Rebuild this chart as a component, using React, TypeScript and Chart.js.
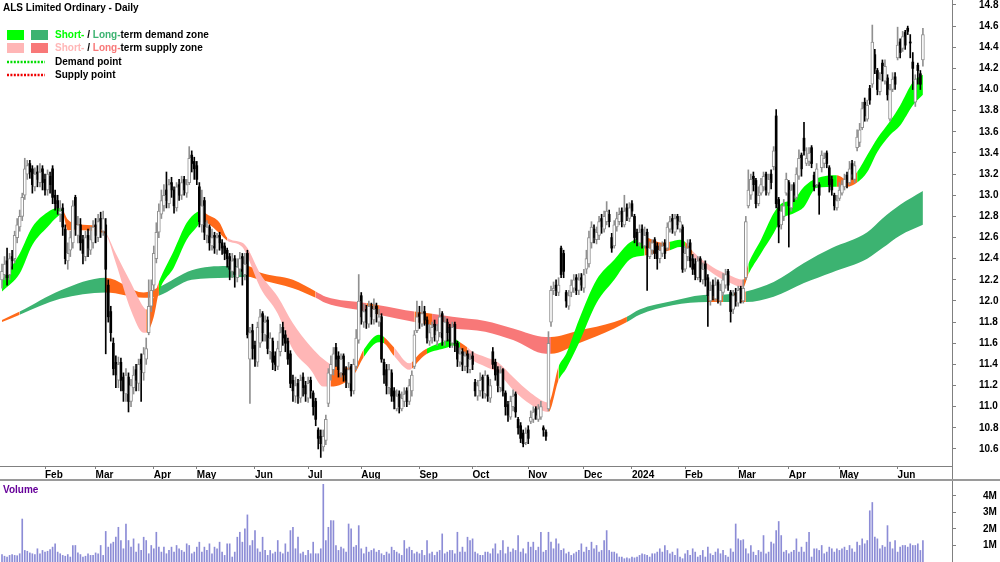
import React, { useEffect, useRef } from 'react';
import { Chart, registerables } from 'chart.js';

Chart.register(...registerables);

const FONT = 'Arial, "Liberation Sans", Helvetica, sans-serif';
const TITLE = 'ALS Limited Ordinary - Daily';

// ---- daily OHLC (bar index 0 = first trading day shown, Jan 2023) ----
const opens = [
  12.20,12.25,12.38,12.25,12.42,12.40,12.60,12.70,12.80,13.00,
  13.20,13.30,13.25,13.08,13.22,13.12,13.25,13.15,13.05,13.18,
  13.25,13.00,12.95,12.82,12.88,12.68,12.38,12.48,12.55,12.98,
  12.62,12.72,12.58,12.42,12.62,12.48,12.55,12.72,12.60,12.78,
  12.66,12.72,12.15,11.90,11.60,11.42,11.25,11.42,11.28,11.12,
  11.28,11.05,11.18,11.35,11.22,11.45,11.32,11.45,11.70,11.95,
  12.15,12.40,12.65,12.82,12.90,13.05,12.92,13.12,13.05,12.88,
  13.10,13.00,13.15,13.02,13.12,13.38,13.32,13.28,13.08,12.72,
  12.95,12.62,12.70,12.52,12.62,12.48,12.62,12.55,12.52,12.48,
  12.42,12.28,12.40,12.22,12.30,12.42,12.25,12.45,11.45,11.72,
  11.58,11.42,11.60,11.88,11.68,11.82,11.52,11.62,11.48,11.38,
  11.52,11.75,11.68,11.62,11.50,11.25,11.10,11.22,11.08,11.28,
  11.20,11.08,11.25,11.13,11.05,10.78,10.72,10.62,10.68,11.03,
  11.30,11.35,11.56,11.48,11.32,11.48,11.35,11.22,11.38,11.15,
  11.38,11.63,12.05,11.80,11.92,11.78,11.95,11.82,11.95,11.80,
  11.85,11.42,11.35,11.18,11.32,11.15,10.98,11.12,10.98,11.05,
  11.15,11.05,11.15,11.38,11.72,11.88,11.78,11.90,11.82,11.62,
  11.65,11.78,11.62,11.70,11.88,11.62,11.80,11.75,11.60,11.78,
  11.60,11.42,11.52,11.38,11.50,11.35,11.48,11.23,11.10,11.15,
  11.28,11.12,11.28,11.08,11.52,11.42,11.35,11.18,11.35,11.13,
  11.02,10.90,11.00,11.12,10.88,10.82,10.75,10.66,10.78,10.86,
  10.88,10.98,10.88,10.90,10.80,10.76,10.98,11.80,12.10,12.15,
  12.08,12.50,12.45,12.08,11.95,12.08,12.12,12.22,12.10,12.22,
  12.12,12.30,12.35,12.55,12.68,12.58,12.62,12.78,12.68,12.75,
  12.82,12.60,12.52,12.70,12.75,12.85,12.72,12.88,12.78,12.92,
  12.80,12.65,12.55,12.68,12.52,12.65,12.42,12.48,12.58,12.52,
  12.40,12.45,12.55,12.50,12.68,12.78,12.65,12.80,12.68,12.70,
  12.30,12.42,12.55,12.40,12.35,12.22,12.40,12.20,12.35,12.22,
  12.00,12.15,12.02,12.18,12.00,12.08,12.15,12.28,12.08,11.92,
  12.08,11.98,12.12,12.00,12.22,12.90,13.00,13.18,13.14,12.92,
  13.02,13.08,13.20,13.02,13.20,13.27,13.75,12.96,12.72,12.80,
  13.02,13.12,12.88,13.10,12.98,13.18,13.38,13.54,13.30,13.32,
  13.45,13.19,13.10,13.10,13.26,13.30,13.40,13.26,13.15,13.00,
  12.88,12.97,13.02,13.08,13.19,13.12,13.30,13.15,13.45,13.50,
  13.64,13.88,13.72,14.01,14.05,14.33,14.18,13.98,14.25,14.08,
  14.11,13.72,14.00,14.12,14.30,14.45,14.39,14.54,14.58,14.45,
  14.26,13.88,14.23,14.15,14.28,
];

const highs = [
  12.35,12.42,12.50,12.45,12.48,12.66,12.78,12.86,13.02,13.35,
  13.33,13.33,13.28,13.26,13.28,13.30,13.28,13.20,13.24,13.22,
  13.28,13.05,13.00,12.95,12.92,12.72,12.55,12.66,12.95,13.00,
  12.80,12.78,12.62,12.66,12.68,12.70,12.76,12.78,12.82,12.84,
  12.85,12.78,12.20,11.95,11.65,11.48,11.47,11.46,11.32,11.36,
  11.32,11.26,11.38,11.40,11.45,11.50,11.56,11.65,12.20,12.20,
  12.52,12.74,12.92,13.05,13.10,13.22,13.15,13.17,13.08,13.12,
  13.15,13.18,13.18,13.15,13.46,13.42,13.36,13.32,13.12,13.05,
  12.98,12.76,12.72,12.68,12.65,12.64,12.65,12.58,12.55,12.50,
  12.45,12.45,12.43,12.40,12.46,12.45,12.45,12.48,11.75,11.78,
  11.62,11.80,11.92,11.90,11.86,11.85,11.70,11.65,11.52,11.62,
  11.78,11.80,11.72,11.65,11.53,11.30,11.28,11.26,11.30,11.32,
  11.24,11.28,11.28,11.15,11.08,10.80,10.78,10.78,10.92,11.36,
  11.48,11.56,11.60,11.52,11.50,11.50,11.38,11.42,11.40,11.45,
  11.73,12.25,12.08,11.97,11.96,12.00,11.98,12.02,11.98,11.92,
  11.88,11.45,11.40,11.40,11.35,11.18,11.16,11.15,11.14,11.18,
  11.18,11.26,11.34,11.72,12.00,11.95,12.00,11.95,11.85,11.78,
  11.80,11.82,11.78,11.93,11.90,11.85,11.83,11.78,11.80,11.80,
  11.62,11.56,11.55,11.52,11.53,11.50,11.52,11.26,11.25,11.32,
  11.30,11.34,11.30,11.26,11.56,11.45,11.38,11.38,11.36,11.15,
  11.05,11.10,11.16,11.14,10.90,10.85,10.78,10.80,10.82,10.96,
  11.00,11.00,11.02,11.05,10.82,10.78,11.71,12.14,12.18,12.20,
  12.22,12.52,12.48,12.10,12.10,12.20,12.25,12.25,12.26,12.26,
  12.30,12.48,12.66,12.75,12.72,12.70,12.80,12.82,12.85,12.94,
  12.86,12.64,12.76,12.84,12.88,12.88,13.00,12.92,12.93,12.95,
  12.82,12.68,12.72,12.72,12.70,12.68,12.56,12.58,12.60,12.55,
  12.54,12.56,12.58,12.74,12.80,12.82,12.82,12.82,12.80,12.72,
  12.52,12.58,12.58,12.44,12.40,12.42,12.42,12.36,12.38,12.25,
  12.18,12.20,12.22,12.20,12.16,12.26,12.30,12.30,12.10,12.10,
  12.12,12.14,12.14,12.20,12.80,13.24,13.20,13.22,13.16,13.08,
  13.16,13.22,13.22,13.20,13.24,13.46,13.81,12.98,12.90,12.96,
  13.21,13.14,13.10,13.12,13.26,13.43,13.40,13.69,13.45,13.45,
  13.47,13.22,13.30,13.12,13.42,13.40,13.42,13.28,13.18,13.02,
  13.00,13.12,13.14,13.20,13.22,13.32,13.33,13.32,13.62,13.68,
  13.88,13.92,13.90,14.04,14.61,14.38,14.20,14.16,14.28,14.28,
  14.14,14.05,14.16,14.16,14.59,14.48,14.55,14.56,14.60,14.52,
  14.35,14.14,14.25,14.18,14.58,
];

const lows = [
  12.12,12.20,12.15,12.20,12.30,12.36,12.55,12.66,12.76,12.96,
  13.15,13.16,13.02,13.04,13.08,13.08,13.05,13.00,13.00,13.02,
  12.92,12.86,12.82,12.75,12.62,12.35,12.30,12.42,12.50,12.62,
  12.55,12.48,12.35,12.38,12.42,12.44,12.50,12.55,12.56,12.60,
  12.62,11.50,11.80,11.62,11.30,11.18,11.18,11.15,11.05,11.05,
  10.95,11.00,11.12,11.15,11.15,11.05,11.25,11.40,11.68,11.90,
  12.10,12.36,12.60,12.78,12.85,12.88,12.88,12.98,12.83,12.85,
  12.95,12.96,13.00,12.98,13.10,13.22,13.15,13.10,12.70,12.65,
  12.58,12.55,12.48,12.48,12.45,12.44,12.48,12.44,12.39,12.32,
  12.20,12.22,12.13,12.18,12.25,12.15,12.20,11.65,11.03,11.45,
  11.38,11.38,11.56,11.62,11.62,11.50,11.45,11.35,11.34,11.35,
  11.48,11.58,11.52,11.40,11.18,11.05,11.04,11.03,11.04,11.10,
  11.05,11.04,11.08,10.92,10.82,10.60,10.52,10.58,10.64,11.00,
  11.25,11.30,11.38,11.28,11.28,11.24,11.18,11.18,11.10,11.12,
  11.35,11.60,11.78,11.75,11.74,11.75,11.78,11.78,11.80,11.76,
  11.42,11.22,11.12,11.12,11.05,10.98,10.96,10.94,10.96,11.00,
  11.00,11.02,11.10,11.36,11.70,11.74,11.76,11.77,11.60,11.58,
  11.60,11.62,11.58,11.66,11.58,11.58,11.62,11.56,11.56,11.52,
  11.38,11.38,11.34,11.34,11.32,11.32,11.35,11.10,11.06,11.10,
  11.08,11.08,11.05,11.04,11.36,11.25,11.14,11.14,11.10,10.92,
  10.86,10.88,10.96,10.90,10.74,10.66,10.62,10.64,10.65,10.84,
  10.85,10.88,10.86,10.88,10.72,10.68,10.96,11.76,12.06,12.05,
  12.05,12.22,12.22,11.94,11.92,12.04,12.08,12.06,12.06,12.10,
  12.08,12.26,12.32,12.50,12.55,12.54,12.58,12.64,12.65,12.72,
  12.70,12.46,12.50,12.66,12.72,12.70,12.70,12.76,12.75,12.80,
  12.55,12.52,12.52,12.50,12.50,12.10,12.40,12.44,12.40,12.30,
  12.36,12.42,12.40,12.48,12.65,12.64,12.62,12.68,12.65,12.27,
  12.28,12.38,12.32,12.25,12.20,12.20,12.18,12.16,12.14,11.76,
  11.96,12.01,12.00,11.98,11.96,12.05,12.12,12.10,11.80,11.88,
  11.95,11.95,11.98,11.98,12.20,12.88,12.96,13.04,12.88,12.90,
  13.00,13.04,13.00,13.00,13.06,13.24,12.88,12.55,12.68,12.76,
  13.00,12.51,12.85,12.94,12.96,13.15,13.18,13.38,13.28,13.28,
  13.26,13.04,13.08,12.82,13.22,13.26,13.26,13.03,13.00,12.86,
  12.86,12.95,13.00,13.05,13.07,13.10,13.15,13.12,13.42,13.46,
  13.62,13.70,13.70,13.86,14.02,14.15,13.95,13.95,14.08,14.05,
  13.90,13.70,13.98,14.00,14.28,14.30,14.36,14.38,14.52,14.30,
  14.00,13.84,14.05,14.00,14.22,
];

const closes = [
  12.28,12.35,12.22,12.40,12.38,12.62,12.72,12.80,12.98,13.25,
  13.28,13.22,13.10,13.20,13.15,13.22,13.12,13.05,13.20,13.10,
  12.98,12.92,12.88,12.85,12.70,12.40,12.45,12.60,12.90,12.68,
  12.72,12.55,12.45,12.60,12.50,12.58,12.70,12.62,12.75,12.68,
  12.78,12.30,11.85,11.70,11.36,11.30,11.40,11.25,11.15,11.30,
  11.05,11.20,11.30,11.25,11.40,11.35,11.50,11.55,11.95,12.10,
  12.45,12.65,12.85,12.95,13.00,12.95,13.10,13.05,12.90,13.08,
  13.00,13.12,13.05,13.10,13.35,13.30,13.25,13.15,12.75,12.90,
  12.65,12.70,12.55,12.60,12.50,12.60,12.55,12.50,12.45,12.40,
  12.30,12.38,12.25,12.32,12.40,12.28,12.35,11.68,11.70,11.55,
  11.45,11.75,11.85,11.70,11.80,11.55,11.65,11.42,11.40,11.55,
  11.70,11.65,11.60,11.45,11.22,11.15,11.20,11.10,11.25,11.18,
  11.12,11.22,11.15,11.00,10.88,10.70,10.65,10.72,10.88,11.32,
  11.40,11.50,11.45,11.35,11.45,11.30,11.25,11.35,11.15,11.40,
  11.65,12.00,11.85,11.90,11.80,11.95,11.85,11.92,11.88,11.85,
  11.45,11.30,11.20,11.35,11.10,11.05,11.10,11.00,11.08,11.12,
  11.05,11.20,11.30,11.68,11.85,11.80,11.88,11.82,11.65,11.70,
  11.75,11.68,11.72,11.85,11.65,11.80,11.70,11.62,11.75,11.60,
  11.45,11.50,11.40,11.48,11.38,11.45,11.40,11.15,11.20,11.25,
  11.15,11.30,11.10,11.20,11.40,11.30,11.20,11.32,11.15,11.00,
  10.92,11.05,11.10,10.95,10.80,10.70,10.65,10.75,10.70,10.90,
  10.95,10.92,10.98,11.00,10.78,10.72,11.60,12.10,12.12,12.10,
  12.15,12.25,12.28,12.00,12.05,12.15,12.20,12.10,12.20,12.15,
  12.25,12.40,12.60,12.70,12.60,12.65,12.75,12.70,12.80,12.85,
  12.75,12.50,12.72,12.78,12.82,12.75,12.85,12.80,12.88,12.85,
  12.60,12.58,12.65,12.55,12.62,12.50,12.50,12.55,12.45,12.40,
  12.48,12.52,12.45,12.70,12.75,12.68,12.78,12.72,12.75,12.30,
  12.45,12.50,12.38,12.30,12.25,12.38,12.22,12.30,12.20,12.05,
  12.10,12.05,12.15,12.02,12.10,12.20,12.25,12.15,11.90,12.05,
  12.00,12.10,12.02,12.12,12.75,13.05,13.15,13.10,12.92,13.00,
  13.10,13.18,13.05,13.15,13.12,13.42,12.92,12.70,12.85,12.90,
  13.15,12.90,13.05,13.00,13.20,13.35,13.25,13.42,13.35,13.40,
  13.30,13.08,13.25,13.00,13.38,13.35,13.30,13.10,13.05,12.90,
  12.95,13.05,13.10,13.15,13.12,13.25,13.20,13.28,13.55,13.62,
  13.82,13.75,13.85,13.90,14.45,14.20,14.00,14.10,14.15,14.22,
  13.95,14.00,14.10,14.05,14.42,14.35,14.50,14.42,14.55,14.44,
  14.20,14.10,14.18,14.05,14.52,
];

// daily volume, millions of shares
const volumes = [
  0.45,0.35,0.3,0.4,0.45,0.4,0.38,0.5,2.6,0.7,
  0.65,0.55,0.5,0.45,0.8,0.5,0.7,0.6,0.65,0.75,
  0.9,1.1,0.6,0.5,0.4,0.35,0.45,0.3,1.0,1.0,
  0.55,0.45,0.3,0.35,0.5,0.4,0.4,0.55,0.5,1.0,
  0.4,1.85,0.9,1.1,1.2,1.5,2.1,1.3,0.8,2.3,
  1.3,0.9,1.4,0.6,1.1,0.7,1.5,1.3,0.5,1.0,
  0.8,1.8,0.9,0.6,0.9,0.5,0.7,0.9,0.6,1.0,
  0.8,0.7,0.6,1.1,1.0,0.5,0.6,0.9,1.2,0.6,
  0.9,0.7,1.1,0.5,0.9,0.8,1.2,0.6,0.4,1.1,
  1.1,0.3,0.6,1.5,1.8,1.2,2.0,2.85,1.0,1.3,
  1.9,0.8,0.6,1.5,0.7,0.4,0.7,0.5,0.6,1.3,
  0.6,0.5,1.1,0.6,1.9,2.1,0.8,1.5,0.5,0.6,
  0.4,0.7,0.5,1.2,0.5,0.5,0.8,4.7,1.3,2.1,
  2.5,2.5,1.0,0.7,0.9,0.8,0.6,2.3,2.0,0.9,
  1.0,2.2,0.8,0.5,0.9,0.6,0.7,0.8,0.6,0.7,
  0.5,0.4,0.6,0.5,0.9,0.7,0.6,0.5,0.4,1.3,
  0.8,0.9,0.7,0.5,0.6,0.5,0.7,0.4,1.3,0.5,
  0.6,0.4,0.6,0.7,1.7,0.5,0.6,0.7,0.7,0.5,
  1.8,0.6,0.9,0.6,1.5,1.3,1.4,0.6,0.5,0.4,
  0.4,0.6,0.6,0.5,0.8,1.1,0.5,0.7,1.3,0.5,
  0.9,0.6,0.8,0.7,1.6,0.6,0.8,0.5,1.2,0.9,
  1.2,0.7,0.9,1.8,0.6,0.7,1.8,1.2,0.8,1.4,
  1.1,0.7,0.8,0.5,0.6,0.4,0.5,0.6,0.7,1.1,
  0.6,0.9,0.7,1.2,0.8,1.0,0.6,0.7,1.3,1.9,
  0.7,0.6,0.6,0.5,0.3,0.3,0.2,0.25,0.2,0.3,
  0.25,0.3,0.4,0.5,0.45,0.4,0.3,0.5,0.5,0.6,
  0.8,0.6,1.0,0.7,0.5,0.6,0.4,0.8,0.3,0.2,
  0.5,0.7,0.4,0.8,0.6,0.3,0.4,0.7,0.3,0.9,
  0.5,0.4,0.6,0.8,0.5,0.7,0.4,0.3,0.8,0.6,
  2.3,1.4,1.3,1.35,0.8,0.5,1.0,0.6,0.4,0.7,
  0.6,1.6,0.5,0.6,1.2,1.1,1.9,2.45,1.6,0.6,
  0.7,0.5,0.6,0.7,1.4,0.6,0.9,0.6,1.2,1.8,
  0.3,0.8,0.8,0.7,1.0,0.5,0.6,0.9,0.8,0.6,
  0.8,0.7,0.8,0.9,0.7,1.0,0.8,0.6,1.2,1.0,
  1.4,1.1,1.3,3.1,3.6,1.5,1.4,0.8,1.0,0.9,
  2.2,1.2,0.8,1.3,0.6,0.9,1.0,1.0,0.9,1.1,
  1.0,1.0,1.1,0.7,1.3,
];

// ---- x axis: first trading bar of each month ----
const monthStarts = [17, 37, 60, 77, 100, 121, 142, 165, 186, 208, 230, 249, 270, 291, 311, 331, 354];
const monthLabels = ['Feb', 'Mar', 'Apr', 'May', 'Jun', 'Jul', 'Aug', 'Sep', 'Oct', 'Nov', 'Dec', '2024', 'Feb', 'Mar', 'Apr', 'May', 'Jun'];

// ---- y axis ticks ----
const priceTicks = [10.6, 10.8, 11.0, 11.2, 11.4, 11.6, 11.8, 12.0, 12.2, 12.4, 12.6, 12.8, 13.0, 13.2, 13.4, 13.6, 13.8, 14.0, 14.2, 14.4, 14.6, 14.8];
const volumeTicks = [1, 2, 3, 4];

// ---- short-term zone (bar index, upper edge, lower edge, state: D demand / S supply / N neutral) ----
const stIdx = [0,7,12,18,22,24,26,32,39,41,45,51,56,57,60,62,68,73,77,79,81,86,89,95,97,102,109,115,122,127,130,139,143,149,151,155,161,162,165,168,176,178,181,184,186,191,196,202,209,216,220,223,228,235,242,248,254,261,264,268,270,273,281,287,293,295,300,305,308,313,317,322,330,334,338,342,346,351,355,360,364];
const stTop = [12.20,12.45,12.70,12.84,12.88,12.86,12.77,12.72,12.70,12.65,12.45,12.17,11.94,11.92,12.04,12.18,12.48,12.74,12.84,12.85,12.82,12.74,12.60,12.55,12.50,12.26,12.04,11.79,11.57,11.45,11.40,11.37,11.54,11.68,11.66,11.56,11.41,11.42,11.50,11.55,11.63,11.65,11.61,11.56,11.52,11.47,11.42,11.28,11.13,11.04,11.38,11.50,11.82,12.20,12.39,12.55,12.60,12.55,12.56,12.58,12.56,12.47,12.32,12.25,12.20,12.35,12.58,12.83,12.92,12.96,13.08,13.16,13.19,13.15,13.22,13.38,13.54,13.70,13.85,14.07,14.14];
const stBot = [12.09,12.26,12.53,12.70,12.80,12.82,12.67,12.67,12.65,12.63,12.36,11.91,11.70,11.70,11.85,12.08,12.32,12.58,12.70,12.76,12.74,12.64,12.57,12.51,12.42,12.13,11.88,11.54,11.35,11.19,11.19,11.30,11.47,11.61,11.60,11.48,11.35,11.36,11.44,11.50,11.56,11.58,11.55,11.48,11.44,11.38,11.32,11.16,11.02,10.95,11.25,11.36,11.60,11.98,12.20,12.39,12.43,12.46,12.48,12.51,12.50,12.42,12.26,12.18,12.13,12.25,12.45,12.64,12.77,12.83,12.89,13.07,13.08,13.08,13.12,13.22,13.41,13.57,13.66,13.85,13.95];
const stZone = [
  'D','D','D','D','D','N','N','N','N','S','S','S','S','N','N','D','D','D','D','N',
  'N','N','S','S','S','S','S','S','S','S','N','N','D','D','N','S','S','N','N','D',
  'D','D','N','S','S','S','S','S','S','N','D','D','D','D','D','D','N','N','D','D',
  'N','S','S','S','N','D','D','D','D','D','D','D','N','N','D','D','D','D','D','D','D',
];

// ---- long-term zone ----
const ltIdx = [0,7,23,41,56,62,75,89,97,102,115,124,128,144,149,163,170,178,191,202,215,217,228,242,247,252,265,279,285,289,294,305,317,328,342,348,355,364];
const ltTop = [11.82,11.90,12.10,12.22,12.08,12.13,12.29,12.33,12.33,12.27,12.20,12.09,12.04,11.98,11.96,11.90,11.88,11.85,11.81,11.74,11.66,11.66,11.72,11.80,11.85,11.92,12.00,12.06,12.06,12.07,12.09,12.18,12.36,12.50,12.65,12.78,12.91,13.04];
const ltBot = [11.80,11.87,12.02,12.08,12.03,12.05,12.20,12.22,12.23,12.20,12.12,12.03,11.98,11.90,11.87,11.80,11.77,11.74,11.71,11.63,11.50,11.50,11.60,11.74,11.80,11.87,11.96,11.99,11.99,11.99,11.99,12.04,12.17,12.27,12.40,12.50,12.62,12.72];
const ltZone = [
  'N','D','D','N','N','D','D','D','N','N','N','S','S','N','S','N','S','S','S','S',
  'S','N','N','N','D','D','D','N','D','N','D','D','D','D','D','D','D','D',
];

const ST_COLORS: Record<string, string> = { D: '#00ff00', N: '#ff6a1a', S: '#ffb6b6' };
const LT_COLORS: Record<string, string> = { D: '#3cb371', N: '#ff6a1a', S: '#f87878' };

const X_MIN = -0.79;
const X_MAX = 375.5;
const Y_MIN = 10.439;
const Y_MAX = 14.847;

const tickFont = { family: FONT, size: 10, weight: 'bold' as const };

function App() {
  const priceRef = useRef<HTMLCanvasElement | null>(null);
  const volRef = useRef<HTMLCanvasElement | null>(null);

  useEffect(() => {
    document.body.style.margin = '0';
    Chart.defaults.font.family = FONT;
    const isUp = (i: number) => closes[i] >= opens[i];
    const upIdx = closes.map((_, i) => i).filter((i) => isUp(i));
    const downIdx = closes.map((_, i) => i).filter((i) => !isUp(i));

    const overlay = {
      id: 'overlay',
      afterDraw(chart: any) {
        const { ctx, chartArea, width, height } = chart;
        ctx.save();
        ctx.strokeStyle = '#808080';
        ctx.lineWidth = 1;
        ctx.beginPath();
        ctx.moveTo(Math.round(chartArea.right) + 0.5, chartArea.bottom);
        ctx.lineTo(Math.round(chartArea.right) + 0.5, height);
        ctx.stroke();
        ctx.fillStyle = '#9a9a9a';
        ctx.fillRect(0, height - 2, width, 2);

        ctx.font = `bold 10px ${FONT}`;
        ctx.textBaseline = 'middle';
        ctx.textAlign = 'left';
        ctx.fillStyle = '#000';
        ctx.fillText(TITLE, 3, 8);

        const parts = (list: [string, string][], x: number, y: number) => {
          let cx = x;
          for (const [t, c] of list) {
            ctx.fillStyle = c;
            ctx.fillText(t, cx, y);
            cx += ctx.measureText(t).width;
          }
        };
        ctx.fillStyle = ST_COLORS.D; ctx.fillRect(7, 30, 17, 10);
        ctx.fillStyle = LT_COLORS.D; ctx.fillRect(31, 30, 17, 10);
        parts([['Short-', ST_COLORS.D], [' / ', '#000'], ['Long-', LT_COLORS.D], ['term demand zone', '#000']], 55, 35);
        ctx.fillStyle = ST_COLORS.S; ctx.fillRect(7, 43, 17, 10);
        ctx.fillStyle = LT_COLORS.S; ctx.fillRect(31, 43, 17, 10);
        parts([['Short-', ST_COLORS.S], [' / ', '#000'], ['Long-', LT_COLORS.S], ['term supply zone', '#000']], 55, 48);

        ctx.lineWidth = 2.5;
        ctx.setLineDash([2, 1.4]);
        ctx.strokeStyle = '#00dd00';
        ctx.beginPath(); ctx.moveTo(7, 62); ctx.lineTo(45, 62); ctx.stroke();
        ctx.strokeStyle = '#ee0000';
        ctx.beginPath(); ctx.moveTo(7, 75); ctx.lineTo(45, 75); ctx.stroke();
        ctx.setLineDash([]);
        ctx.fillStyle = '#000';
        ctx.fillText('Demand point', 55, 62);
        ctx.fillText('Supply point', 55, 75);
        ctx.restore();
      },
    };

    const bandLine = (idx: number[], vals: number[], order: number) => ({
      type: 'line' as const,
      data: idx.map((x, k) => ({ x, y: vals[k] })),
      borderWidth: 0,
      pointRadius: 0,
      pointHitRadius: 0,
      cubicInterpolationMode: 'monotone' as const,
      order,
    });

    const price = new Chart(priceRef.current as HTMLCanvasElement, {
      type: 'bar',
      data: {
        datasets: [
          { ...bandLine(ltIdx, ltBot, 10), fill: false },
          {
            ...bandLine(ltIdx, ltTop, 10),
            fill: '-1',
            backgroundColor: LT_COLORS.D,
            segment: { backgroundColor: (c: any) => LT_COLORS[ltZone[c.p0DataIndex]] },
          },
          { ...bandLine(stIdx, stBot, 9), fill: false },
          {
            ...bandLine(stIdx, stTop, 9),
            fill: '-1',
            backgroundColor: ST_COLORS.D,
            segment: { backgroundColor: (c: any) => ST_COLORS[stZone[c.p0DataIndex]] },
          },
          {
            type: 'bar',
            data: closes.map((_, i) => ({ x: i, y: [lows[i], highs[i]] })),
            backgroundColor: (c: any) => (isUp(c.dataIndex) ? '#909090' : '#000000'),
            barThickness: 1,
            stack: 'c',
            order: 2,
          },
          {
            type: 'bar',
            data: upIdx.map((i) => ({ x: i, y: [opens[i], closes[i]] })),
            backgroundColor: '#ffffff',
            borderColor: '#909090',
            borderWidth: 1,
            borderSkipped: false,
            barThickness: 3,
            minBarLength: 1,
            stack: 'c',
            order: 1,
          },
          {
            type: 'bar',
            data: downIdx.map((i) => ({ x: i, y: [opens[i], closes[i]] })),
            backgroundColor: '#000000',
            borderWidth: 0,
            barThickness: 2,
            minBarLength: 1,
            stack: 'c',
            order: 1,
          },
        ] as any,
      },
      options: {
        responsive: false,
        animation: false,
        devicePixelRatio: 1,
        events: [],
        layout: { padding: 0 },
        plugins: { legend: { display: false }, tooltip: { enabled: false }, title: { display: false } },
        scales: {
          x: {
            type: 'linear',
            min: X_MIN,
            max: X_MAX,
            offset: false,
            grid: { drawOnChartArea: false, offset: false, tickLength: 3, color: '#808080' },
            border: { color: '#808080' },
            ticks: {
              align: 'start',
              autoSkip: false,
              maxRotation: 0,
              padding: 0,
              color: '#000',
              font: tickFont,
              callback: (_v: any, idx: number) => monthLabels[idx] ?? '',
            },
            afterBuildTicks: (s: any) => { s.ticks = monthStarts.map((v) => ({ value: v })); },
            afterFit: (s: any) => { s.height = 15; s.paddingLeft = 0; s.paddingRight = 0; },
          },
          y: {
            position: 'right',
            min: Y_MIN,
            max: Y_MAX,
            stacked: false,
            grid: { drawOnChartArea: false, tickLength: 4, color: '#808080' },
            border: { color: '#808080' },
            ticks: { padding: 23, color: '#000', font: tickFont, callback: (v: any) => Number(v).toFixed(1) },
            afterBuildTicks: (s: any) => { s.ticks = priceTicks.map((v) => ({ value: v })); },
            afterFit: (s: any) => { s.width = 48; s.paddingTop = 0; s.paddingBottom = 0; },
          },
        } as any,
      },
      plugins: [overlay],
    });

    const volLabel = {
      id: 'volLabel',
      afterDraw(chart: any) {
        const { ctx } = chart;
        ctx.save();
        ctx.font = `bold 10px ${FONT}`;
        ctx.textBaseline = 'middle';
        ctx.textAlign = 'left';
        ctx.fillStyle = '#660099';
        ctx.fillText('Volume', 3, 9);
        ctx.restore();
      },
    };

    const vol = new Chart(volRef.current as HTMLCanvasElement, {
      type: 'bar',
      data: {
        datasets: [
          {
            data: volumes.map((v, i) => ({ x: i, y: v })),
            backgroundColor: '#8c8cd6',
            barThickness: 1,
          },
        ] as any,
      },
      options: {
        responsive: false,
        animation: false,
        devicePixelRatio: 1,
        events: [],
        layout: { padding: 0 },
        plugins: { legend: { display: false }, tooltip: { enabled: false } },
        scales: {
          x: { type: 'linear', min: X_MIN, max: X_MAX, offset: false, display: false },
          y: {
            position: 'right',
            min: 0,
            max: 4.9,
            grid: { drawOnChartArea: false, tickLength: 4, color: '#808080' },
            border: { color: '#808080' },
            ticks: { padding: 27, color: '#000', font: tickFont, callback: (v: any) => `${v}M` },
            afterBuildTicks: (s: any) => { s.ticks = volumeTicks.map((v) => ({ value: v })); },
            afterFit: (s: any) => { s.width = 48; s.paddingTop = 0; s.paddingBottom = 0; },
          },
        } as any,
      },
      plugins: [volLabel],
    });

    return () => {
      price.destroy();
      vol.destroy();
    };
  }, []);

  return (
    <div style={{ position: 'relative', width: 1000, height: 562, background: '#fff', overflow: 'hidden' }}>
      <canvas ref={priceRef} width={1000} height={481} style={{ position: 'absolute', left: 0, top: 0, display: 'block' }} />
      <canvas ref={volRef} width={1000} height={81} style={{ position: 'absolute', left: 0, top: 481, display: 'block' }} />
    </div>
  );
}

export default App;
